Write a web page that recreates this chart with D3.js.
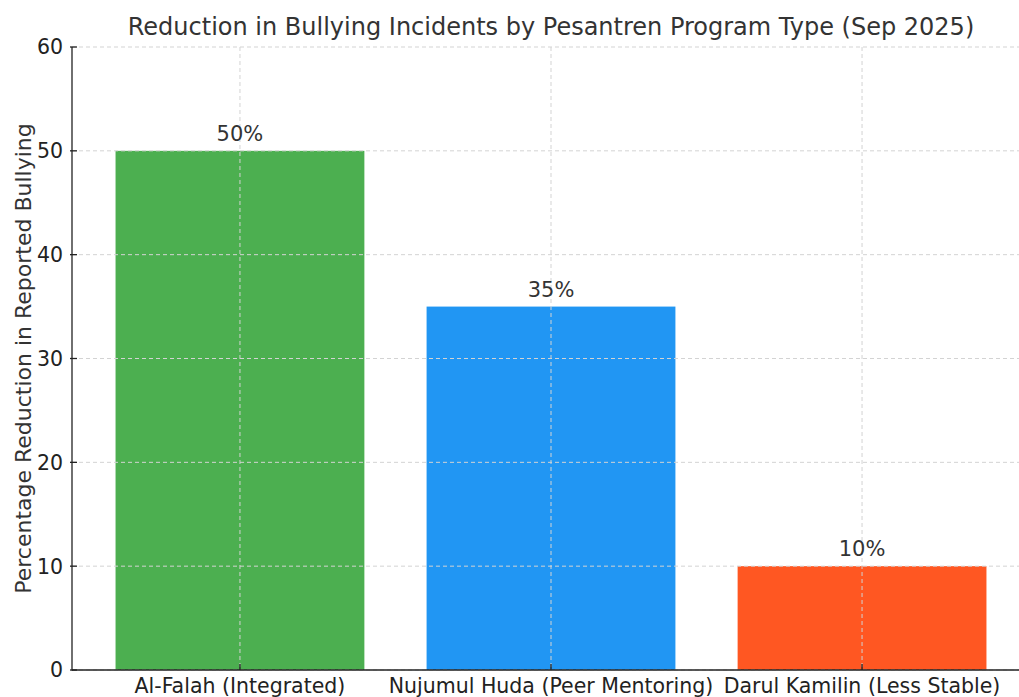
<!DOCTYPE html>
<html>
<head>
<meta charset="utf-8">
<script src="https://cdn.jsdelivr.net/npm/d3@7"></script>
<style>
  body { margin: 0; background: #fff; }
  text { font-family: "DejaVu Sans", sans-serif; fill: #333; }
</style>
</head>
<body>
<svg id="chart" width="1019" height="697"></svg>
<script>
// chart data
const programs = ['Al-Falah (Integrated)', 'Nujumul Huda (Peer Mentoring)', 'Darul Kamilin (Less Stable)'];
const reductions = [50, 35, 10];
const barColors = ['#4CAF50', '#2196F3', '#FF5722'];
const yTicks = [0, 10, 20, 30, 40, 50, 60];

const svg = d3.select('#chart');
const margin = { top: 47, left: 72, bottom: 670, right: 1030 };

// matplotlib style: bars at 0,1,2 width .8, x margins .05
const x = d3.scaleLinear().domain([-0.54, 2.54]).range([margin.left, margin.right]);
const y = d3.scaleLinear().domain([0, 60]).range([margin.bottom, margin.top]);

// grid
const grid = svg.append('g');
grid.selectAll('.hgrid').data(yTicks).enter()
    .append('line')
    .attr('x1', margin.left).attr('x2', margin.right)
    .attr('y1', d => y(d)).attr('y2', d => y(d))
    .attr('stroke', '#d3d3d3').attr('stroke-width', 1)
    .attr('stroke-dasharray', '4,3');

// bars
svg.selectAll('.bar').data(reductions).enter()
    .append('rect')
    .attr('class', 'bar')
    .attr('x', (d, i) => x(i - 0.4))
    .attr('width', (d, i) => x(i + 0.4) - x(i - 0.4))
    .attr('y', d => y(d))
    .attr('height', d => y(0) - y(d))
    .attr('fill', (d, i) => barColors[i]);

// vertical grid on top of bars
grid.raise();
grid.selectAll('.vgrid').data(programs).enter()
    .append('line')
    .attr('x1', (d, i) => x(i)).attr('x2', (d, i) => x(i))
    .attr('y1', margin.top).attr('y2', margin.bottom)
    .attr('stroke', '#d3d3d3').attr('stroke-width', 1)
    .attr('stroke-dasharray', '4,3');

// value labels
svg.selectAll('.val').data(reductions).enter()
    .append('text')
    .attr('x', (d, i) => x(i))
    .attr('y', d => y(d) - 10)
    .attr('text-anchor', 'middle')
    .style('font-size', '21px')
    .text(d => d + '%');

// spines
svg.append('line')
    .attr('x1', margin.left).attr('x2', margin.left)
    .attr('y1', margin.top).attr('y2', margin.bottom + 0.5)
    .attr('stroke', '#222').attr('stroke-width', 1.3);
svg.append('line')
    .attr('x1', margin.left).attr('x2', margin.right)
    .attr('y1', margin.bottom).attr('y2', margin.bottom)
    .attr('stroke', '#222').attr('stroke-width', 1.3);

// y ticks
const yt = svg.selectAll('.ytick').data(yTicks).enter().append('g');
yt.append('line')
    .attr('x1', margin.left - 2).attr('x2', margin.left + 5)
    .attr('y1', d => y(d)).attr('y2', d => y(d))
    .attr('stroke', '#222').attr('stroke-width', 1.3);
yt.append('text')
    .attr('x', margin.left - 9)
    .attr('y', d => y(d))
    .attr('dy', '0.36em')
    .attr('text-anchor', 'end')
    .style('font-size', '20.5px')
    .style('fill', '#222')
    .text(d => d);

// x ticks
const xt = svg.selectAll('.xtick').data(programs).enter().append('g');
xt.append('line')
    .attr('x1', (d, i) => x(i)).attr('x2', (d, i) => x(i))
    .attr('y1', margin.bottom - 6).attr('y2', margin.bottom)
    .attr('stroke', '#222').attr('stroke-width', 1.3);
xt.append('text')
    .attr('x', (d, i) => x(i))
    .attr('y', margin.bottom + 23)
    .attr('text-anchor', 'middle')
    .style('font-size', '20.5px')
    .style('fill', '#222')
    .text(d => d);

// y label
svg.append('text')
    .attr('transform', `translate(31, ${(margin.top + margin.bottom) / 2}) rotate(-90)`)
    .attr('text-anchor', 'middle')
    .style('font-size', '22px')
    .text('Percentage Reduction in Reported Bullying');

// title
svg.append('text')
    .attr('x', (margin.left + margin.right) / 2)
    .attr('y', 35)
    .attr('text-anchor', 'middle')
    .style('font-size', '24px')
    .text('Reduction in Bullying Incidents by Pesantren Program Type (Sep 2025)');
</script>
</body>
</html>
